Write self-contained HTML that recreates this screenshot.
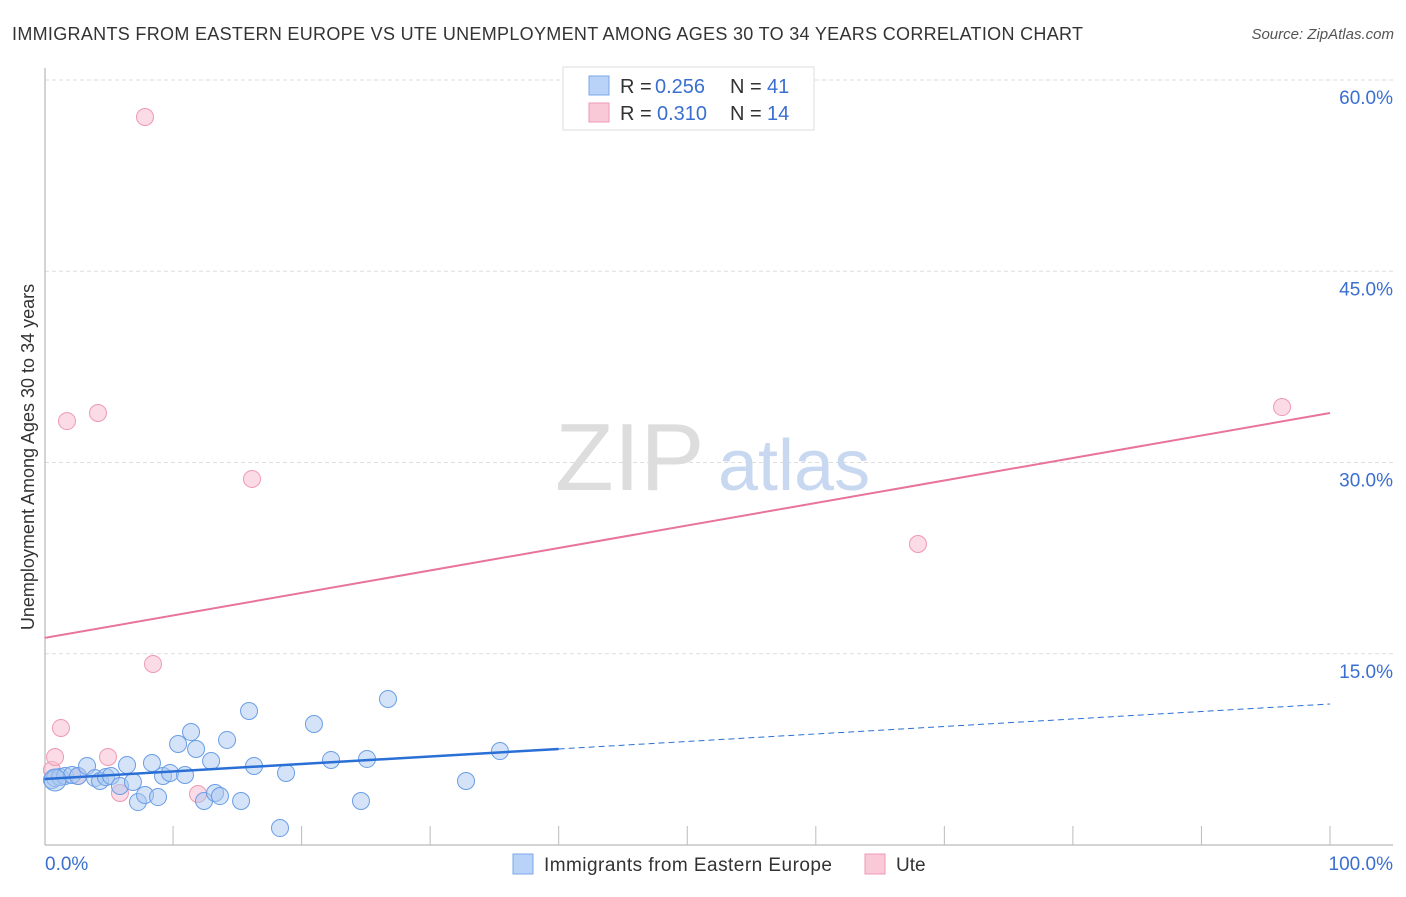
<!DOCTYPE html>
<html><head><meta charset="utf-8"><style>
body{margin:0;background:#fff;font-family:"Liberation Sans",sans-serif;}
svg text{font-family:"Liberation Sans",sans-serif;}
</style></head><body>
<svg id="chart" width="1406" height="892">
<text x="12" y="40" font-size="18" fill="#333" textLength="1071">IMMIGRANTS FROM EASTERN EUROPE VS UTE UNEMPLOYMENT AMONG AGES 30 TO 34 YEARS CORRELATION CHART</text>
<text x="1394" y="39" font-size="15" fill="#555" font-style="italic" text-anchor="end">Source: ZipAtlas.com</text>
<text transform="translate(34,457) rotate(-90)" font-size="18" fill="#333" text-anchor="middle">Unemployment Among Ages 30 to 34 years</text>
<g id="grid"></g>
<text x="555" y="490" font-size="96" fill="#ddd" font-family="Liberation Serif">ZIP</text>
<text x="718" y="490" font-size="72" fill="#c8d8f0">atlas</text>
<g id="marks"></g>
<g>
<rect x="563" y="67" width="251" height="63" fill="#fff" stroke="#ddd"/>
<rect x="589" y="76" width="20" height="19" fill="#b8d3f7" stroke="#7aa7e8"/>
<text x="620" y="93" font-size="20" fill="#333">R = </text>
<text x="655" y="93" font-size="20" fill="#3a6fd0">0.256</text>
<text x="730" y="93" font-size="20" fill="#333">N = </text>
<text x="767" y="93" font-size="20" fill="#3a6fd0">41</text>
<rect x="589" y="103" width="20" height="19" fill="#f9c9d8" stroke="#ee9ab4"/>
<text x="620" y="120" font-size="20" fill="#333">R = </text>
<text x="657" y="120" font-size="20" fill="#3a6fd0">0.310</text>
<text x="730" y="120" font-size="20" fill="#333">N = </text>
<text x="767" y="120" font-size="20" fill="#3a6fd0">14</text>
</g>
<g>
<rect x="513" y="854" width="20" height="20" fill="#b8d3f7" stroke="#7aa7e8"/>
<text x="544" y="871" font-size="19" fill="#333" textLength="288">Immigrants from Eastern Europe</text>
<rect x="865" y="854" width="20" height="20" fill="#f9c9d8" stroke="#ee9ab4"/>
<text x="896" y="871" font-size="19" fill="#333">Ute</text>
</g>
</svg>
<script>
const blueX=[0.58,0.82,1.21,1.60,2.14,2.61,3.31,3.93,4.32,4.78,5.17,5.87,6.42,6.88,7.27,7.82,8.36,8.83,9.22,9.76,10.39,10.93,11.40,11.79,12.41,12.96,13.27,13.65,14.20,15.29,15.91,16.30,18.32,18.79,20.96,22.29,24.62,25.09,26.72,32.79,35.43,0.82];
const blueY=[5.10,5.25,5.33,5.41,5.49,5.41,6.20,5.25,5.02,5.33,5.41,4.63,6.27,4.94,3.37,3.92,6.43,3.76,5.41,5.65,7.92,5.49,8.86,7.53,3.45,6.59,4.08,3.84,8.24,3.45,10.51,6.20,1.33,5.65,9.49,6.67,3.45,6.75,11.45,5.02,7.37,5.10];
const pinkX=[0.58,0.82,1.28,1.75,4.16,4.94,5.87,7.82,8.44,11.94,16.14,67.95,96.27,2.61];
const pinkY=[5.88,6.90,9.18,33.25,33.88,6.90,4.08,57.10,14.20,4.00,28.71,23.61,34.35,5.41];
const yTicks=[15,30,45,60];
const xTicks=[0,10,20,30,40,50,60,70,80,90,100];
const blueFit=[5.18,0.0588];
const pinkFit=[16.24,0.1764];
const blueSolidEnd=40;
const NS="http://www.w3.org/2000/svg";
const X=v=>44.5+v*12.855;
const Y=v=>845-v*12.75;
function mk(t,a,p){const e=document.createElementNS(NS,t);for(const k in a)e.setAttribute(k,a[k]);p.appendChild(e);return e;}
const grid=document.getElementById('grid'),marks=document.getElementById('marks');
yTicks.forEach(t=>{
 const l=mk('line',{x1:45,x2:1393,y1:Y(t),y2:Y(t),stroke:'#ddd','stroke-dasharray':'4,3'},grid);
 
 
 const tx=mk('text',{x:1393,y:Y(t)+24,'font-size':19,fill:'#3a6fd0','text-anchor':'end'},grid);
 tx.textContent=t.toFixed(1)+'%';
 
 
});
const ax=mk('line',{x1:45,x2:1393,y1:845,y2:845,stroke:'#aaa'},grid);


const ay=mk('line',{x1:45,x2:45,y1:68,y2:845,stroke:'#aaa'},grid);


xTicks.forEach(t=>{if(t===0)return;
 const l=mk('line',{x1:X(t),x2:X(t),y1:826,y2:845,stroke:'#bbb'},grid);
 
 
});
[[0,'0.0%',45,'start'],[100,'100.0%',1393,'end']].forEach(d=>{
 const tx=mk('text',{x:d[2],y:870,'font-size':19,fill:'#3a6fd0','text-anchor':d[3]},grid);
 tx.textContent=d[1];
 
 
});
pinkX.forEach((v,i)=>{
 const c=mk('circle',{cx:X(v),cy:Y(pinkY[i]),r:8.5,fill:'rgba(248,190,210,0.55)',stroke:'#ee9ab4','stroke-width':1},marks);
 
 
});
blueX.forEach((v,i)=>{
 const c=mk('circle',{cx:X(v),cy:Y(blueY[i]),r:(i===blueX.length-1?11:8.5),fill:'rgba(170,200,240,0.5)',stroke:'#6a9ee6','stroke-width':1},marks);
 
 
});
const pl=mk('line',{x1:X(0),y1:Y(pinkFit[0]),x2:X(100),y2:Y(pinkFit[0]+pinkFit[1]*100),stroke:'#e8739b','stroke-width':2},marks);


const bl=mk('line',{x1:X(0),y1:Y(blueFit[0]),x2:X(blueSolidEnd),y2:Y(blueFit[0]+blueFit[1]*blueSolidEnd),stroke:'#2a6fd6','stroke-width':2.5},marks);


const bd=mk('line',{x1:X(blueSolidEnd),y1:Y(blueFit[0]+blueFit[1]*blueSolidEnd),x2:X(100),y2:Y(blueFit[0]+blueFit[1]*100),stroke:'#2a6fd6','stroke-width':1,'stroke-dasharray':'6,4'},marks);


</script>
</body></html>
